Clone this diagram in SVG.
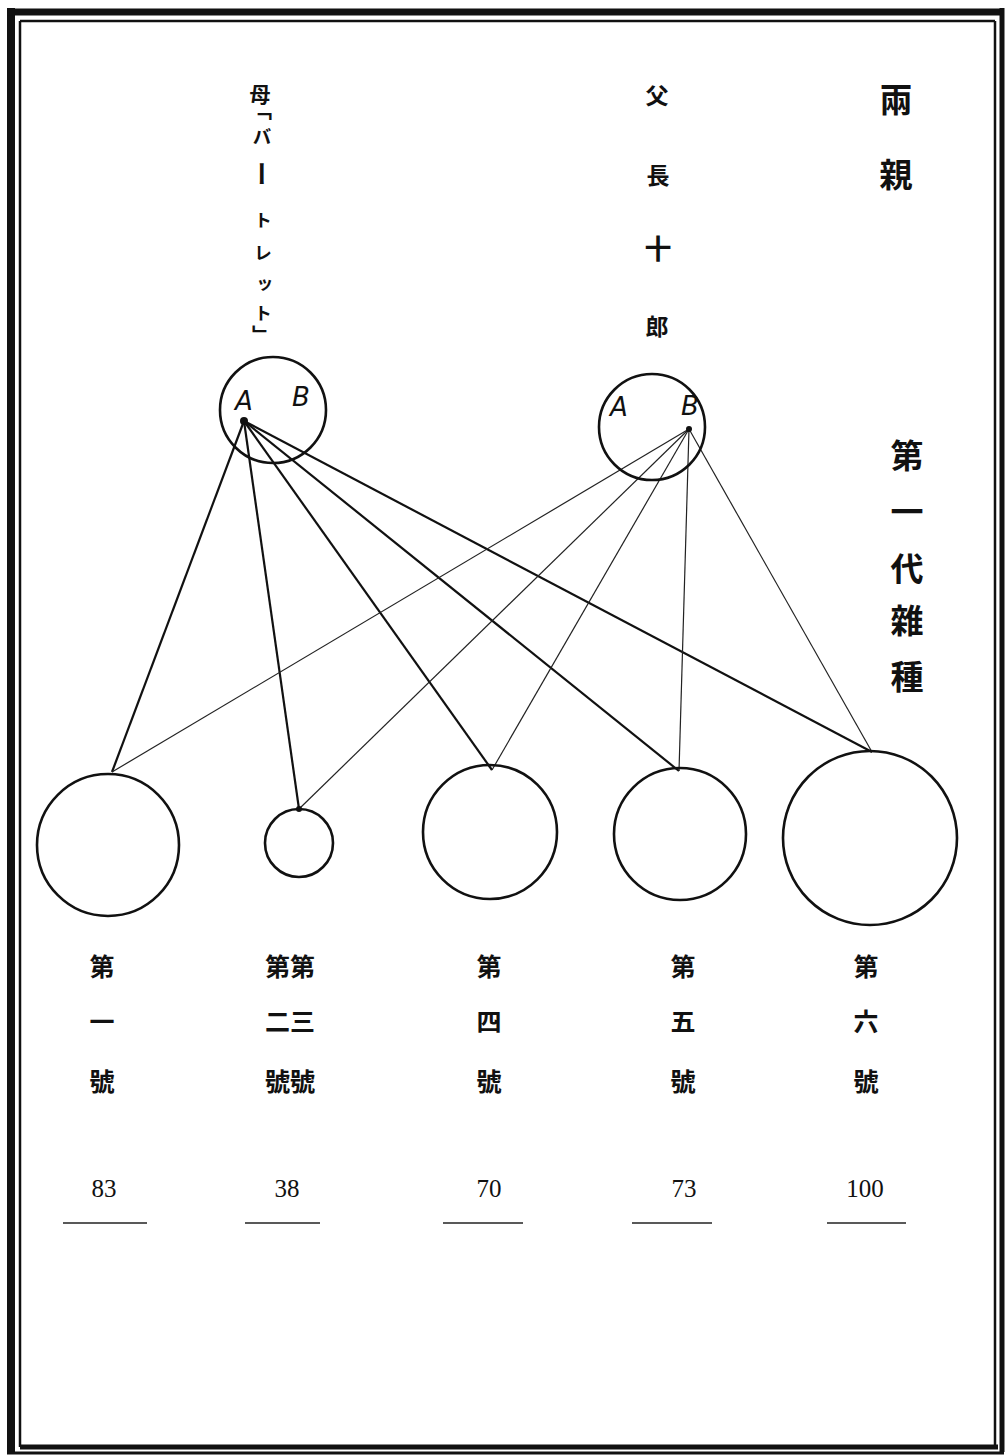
<svg xmlns="http://www.w3.org/2000/svg" width="1005" height="1455" viewBox="0 0 1005 1455">
<style>
.c{fill:none;stroke:#111;stroke-width:2.6}
.m{stroke:#111;stroke-width:2.2;fill:none}
.f{stroke:#222;stroke-width:1.2;fill:none}
.j{font-family:"Noto Sans CJK JP","Noto Sans CJK SC",sans-serif;fill:#111;text-anchor:middle;dominant-baseline:central;font-weight:700}
.v{writing-mode:vertical-rl}
.n{font-family:"Liberation Serif",serif;font-size:25px;fill:#111;text-anchor:middle}
.ab{font-family:"DejaVu Sans",sans-serif;font-style:oblique;font-size:26px;fill:#111;text-anchor:middle}
.u{stroke:#222;stroke-width:1.6}
</style>
<rect width="1005" height="1455" fill="#fff"/>
<g id="frame">
<line x1="11" y1="8" x2="11" y2="1452" stroke="#111" stroke-width="8"/>
<line x1="7" y1="12" x2="1004" y2="12" stroke="#111" stroke-width="7"/>
<line x1="1002" y1="8" x2="1002" y2="1452" stroke="#111" stroke-width="5"/>
<line x1="7" y1="1453" x2="1004" y2="1453" stroke="#111" stroke-width="3"/>
<line x1="20" y1="21" x2="20" y2="1447" stroke="#111" stroke-width="2.5"/>
<line x1="20" y1="21" x2="995" y2="21" stroke="#111" stroke-width="2.5"/>
<line x1="995" y1="21" x2="995" y2="1447" stroke="#111" stroke-width="2.5"/>
<line x1="20" y1="1447" x2="998" y2="1447" stroke="#111" stroke-width="5"/>
</g>
<g id="connectors">
<line class="m" x1="244" y1="421" x2="112" y2="772"/>
<line class="m" x1="244" y1="421" x2="299" y2="809"/>
<line class="m" x1="244" y1="421" x2="492" y2="770"/>
<line class="m" x1="244" y1="421" x2="679" y2="771"/>
<line class="m" x1="244" y1="421" x2="872" y2="752"/>
<line class="f" x1="689" y1="429" x2="112" y2="772"/>
<line class="f" x1="689" y1="429" x2="299" y2="809"/>
<line class="f" x1="689" y1="429" x2="492" y2="770"/>
<line class="f" x1="689" y1="429" x2="679" y2="771"/>
<line class="f" x1="689" y1="429" x2="872" y2="752"/>
<circle cx="244" cy="421" r="4" fill="#111"/>
<circle cx="689" cy="429" r="3" fill="#111"/>
<circle cx="299" cy="809" r="3" fill="#111"/>
</g>
<g id="mother">
<circle class="c" cx="273" cy="410" r="53"/>
<text class="ab" x="244" y="410">A</text>
<text class="ab" x="301" y="406">B</text>
<text class="j" x="260" y="93" font-size="21">母</text>
<text class="j v" x="262" y="110" font-size="20">「</text>
<text class="j v" x="262" y="137" font-size="19">バ</text>
<text class="j v" x="262" y="174" font-size="26">ー</text>
<text class="j v" x="263" y="220" font-size="18">ト</text>
<text class="j v" x="263" y="253" font-size="18">レ</text>
<text class="j v" x="263" y="285" font-size="18">ッ</text>
<text class="j v" x="263" y="313" font-size="18">ト</text>
<text class="j v" x="262" y="335" font-size="20">」</text>
</g>
<g id="father">
<circle class="c" cx="652" cy="427" r="53"/>
<text class="ab" x="619" y="416">A</text>
<text class="ab" x="690" y="415">B</text>
<text class="j" x="657" y="94" font-size="23">父</text>
<text class="j" x="658" y="174" font-size="23">長</text>
<text class="j" x="658" y="247" font-size="27">十</text>
<text class="j" x="657" y="325" font-size="23">郎</text>
</g>
<g id="title-parents">
<text class="j" x="896" y="98" font-size="33">兩</text>
<text class="j" x="896" y="173" font-size="33">親</text>
</g>
<g id="title-f1">
<text class="j" x="907" y="454" font-size="33">第</text>
<text class="j" x="907" y="510" font-size="33">一</text>
<text class="j" x="907" y="567" font-size="33">代</text>
<text class="j" x="907" y="619" font-size="33">雜</text>
<text class="j" x="907" y="675" font-size="33">種</text>
</g>
<g id="n1">
<circle class="c" cx="108" cy="845" r="71"/>
<text class="j" x="102" y="965" font-size="25">第</text>
<text class="j" x="102" y="1020" font-size="25">一</text>
<text class="j" x="102" y="1080" font-size="25">號</text>
<text class="n" x="104" y="1197">83</text>
<line class="u" x1="63" y1="1223" x2="147" y2="1223"/>
</g>
<g id="n23">
<circle class="c" cx="299" cy="843" r="34"/>
<text class="j" x="290" y="965" font-size="25">第第</text>
<text class="j" x="290" y="1020" font-size="25">二三</text>
<text class="j" x="290" y="1080" font-size="25">號號</text>
<text class="n" x="287" y="1197">38</text>
<line class="u" x1="245" y1="1223" x2="320" y2="1223"/>
</g>
<g id="n4">
<circle class="c" cx="490" cy="832" r="67"/>
<text class="j" x="489" y="965" font-size="25">第</text>
<text class="j" x="489" y="1020" font-size="25">四</text>
<text class="j" x="489" y="1080" font-size="25">號</text>
<text class="n" x="489" y="1197">70</text>
<line class="u" x1="443" y1="1223" x2="523" y2="1223"/>
</g>
<g id="n5">
<circle class="c" cx="680" cy="834" r="66"/>
<text class="j" x="683" y="965" font-size="25">第</text>
<text class="j" x="683" y="1020" font-size="25">五</text>
<text class="j" x="683" y="1080" font-size="25">號</text>
<text class="n" x="684" y="1197">73</text>
<line class="u" x1="632" y1="1223" x2="712" y2="1223"/>
</g>
<g id="n6">
<circle class="c" cx="870" cy="838" r="87"/>
<text class="j" x="866" y="965" font-size="25">第</text>
<text class="j" x="866" y="1020" font-size="25">六</text>
<text class="j" x="866" y="1080" font-size="25">號</text>
<text class="n" x="865" y="1197">100</text>
<line class="u" x1="827" y1="1223" x2="906" y2="1223"/>
</g>
</svg>
